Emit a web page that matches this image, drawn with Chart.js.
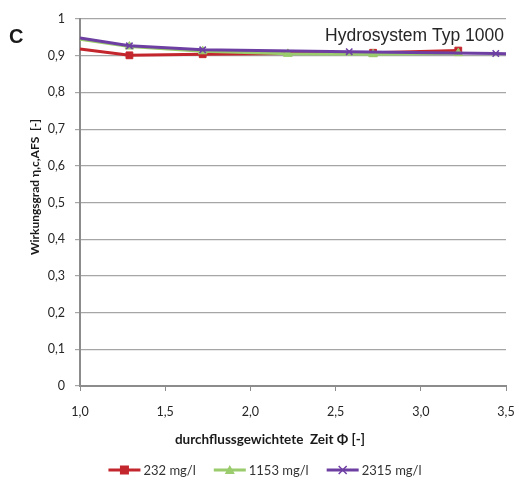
<!DOCTYPE html>
<html>
<head>
<meta charset="utf-8">
<script src="https://cdn.jsdelivr.net/npm/chart.js@4.4.1/dist/chart.umd.min.js"></script>
<style>
  html, body { margin: 0; padding: 0; background: #fff; }
  #wrap { width: 519px; height: 485px; position: relative; }
</style>
</head>
<body>
<div id="wrap"><canvas id="c" width="519" height="485"></canvas></div>
<script>
// Efficiency over flow-weighted time for three inflow concentrations
const seriesNames = ['232 mg/l', '1153 mg/l', '2315 mg/l'];

const redX = [1.0, 1.29, 1.72, 2.72, 3.22];
const redY = [0.918, 0.901, 0.904, 0.908, 0.914];

const greenX = [1.0, 1.29, 1.72, 2.22, 2.72, 3.22];
const greenY = [0.945, 0.925, 0.912, 0.905, 0.904, 0.907];

const purpleX = [1.0, 1.29, 1.72, 2.58, 3.44, 3.5];
const purpleY = [0.948, 0.927, 0.916, 0.911, 0.906, 0.905];

const xTicks = [1.0, 1.5, 2.0, 2.5, 3.0, 3.5];
const yTicks = [0, 0.1, 0.2, 0.3, 0.4, 0.5, 0.6, 0.7, 0.8, 0.9, 1];

const xTitle = 'durchflussgewichtete  Zeit Φ [-]';
const yTitle = 'Wirkungsgrad η,c,AFS  [-]';
const panelLetter = 'C';
const panelTitle = 'Hydrosystem Typ 1000';

const X_MIN = 1.0, X_MAX = 3.5;
const RED = '#c4262e', GREEN = '#9acb6c', PURPLE = '#6e3fa3';
const TICK_FONT = 'Lato, "Open Sans", sans-serif';

function pts(xs, ys) { return xs.map((x, i) => ({ x: x, y: ys[i] })); }
function comma(v, d) { return v.toFixed(d).replace('.', ','); }

// markers sit on measured points only, not where the line meets the frame
function edgeless(r) {
  return ctx => {
    const x = ctx.raw && ctx.raw.x;
    return (x <= X_MIN || x >= X_MAX) ? 0 : r;
  };
}

function drawMarker(g, style, cx, cy, color) {
  g.fillStyle = color; g.strokeStyle = color;
  if (style === 'rect') {
    g.fillRect(cx - 4.5, cy - 4.5, 9, 9);
  } else if (style === 'triangle') {
    g.beginPath(); g.moveTo(cx, cy - 5); g.lineTo(cx + 5, cy + 4); g.lineTo(cx - 5, cy + 4); g.closePath(); g.fill();
  } else {
    g.lineWidth = 1.5;
    g.beginPath(); g.moveTo(cx - 4, cy - 4); g.lineTo(cx + 4, cy + 4);
    g.moveTo(cx + 4, cy - 4); g.lineTo(cx - 4, cy + 4); g.stroke();
  }
}

const styles = ['rect', 'triangle', 'crossRot'];

// titles, panel label and legend
const decor = {
  id: 'decor',
  afterDraw(chart) {
    const g = chart.ctx;
    g.save();
    g.textBaseline = 'alphabetic';
    g.fillStyle = '#1a1a1a';
    g.font = 'bold 20px "Liberation Sans", Arial, sans-serif';
    g.textAlign = 'left';
    g.fillText(panelLetter, 9, 43);

    g.fillStyle = '#262626';
    g.font = '17.5px "Liberation Sans", Arial, sans-serif';
    g.textAlign = 'right';
    g.fillText(panelTitle, 504, 41);

    // axis titles
    g.fillStyle = '#1a1a1a';
    g.textAlign = 'center';
    g.textBaseline = 'middle';
    g.font = 'bold 13.5px ' + TICK_FONT;
    g.fillText(xTitle, 270, 440);
    g.save();
    g.translate(35, 187);
    g.rotate(-Math.PI / 2);
    g.font = 'bold 12px ' + TICK_FONT;
    g.fillText(yTitle, 0, 0);
    g.restore();

    // legend: line with marker, then label
    g.font = '13px ' + TICK_FONT;
    g.textAlign = 'left';
    const lineW = 32, gapTxt = 3, gapItem = 18;
    const widths = seriesNames.map(n => lineW + gapTxt + g.measureText(n).width);
    const total = widths.reduce((a, b) => a + b, 0) + gapItem * (seriesNames.length - 1);
    let x = 265 - total / 2;
    const y = 470;
    chart.data.datasets.forEach((d, i) => {
      g.strokeStyle = d.borderColor; g.lineWidth = 3;
      g.beginPath(); g.moveTo(x, y); g.lineTo(x + lineW, y); g.stroke();
      drawMarker(g, styles[i], x + lineW / 2, y, d.borderColor);
      g.fillStyle = '#333';
      g.fillText(d.label, x + lineW + gapTxt, y + 1);
      x += widths[i] + gapItem;
    });
    g.restore();
  }
};

new Chart(document.getElementById('c'), {
  type: 'line',
  data: {
    datasets: [
      { label: seriesNames[0], data: pts(redX, redY), borderColor: RED, backgroundColor: RED,
        borderWidth: 3, pointStyle: 'rect', pointRadius: edgeless(4.8), pointBorderWidth: 1,
        order: 3, clip: false },
      { label: seriesNames[1], data: pts(greenX, greenY), borderColor: GREEN, backgroundColor: GREEN,
        borderWidth: 3, pointStyle: 'triangle', pointRadius: edgeless(5), pointBorderWidth: 1,
        order: 2, clip: false },
      { label: seriesNames[2], data: pts(purpleX, purpleY), borderColor: PURPLE, backgroundColor: PURPLE,
        borderWidth: 3, pointStyle: 'crossRot', pointRadius: edgeless(4.5), pointBorderWidth: 1.5,
        order: 1, clip: false }
    ]
  },
  options: {
    responsive: false,
    animation: false,
    events: [],
    layout: { padding: { top: 19, right: 13, bottom: 33, left: 0 } },
    plugins: {
      tooltip: { enabled: false },
      legend: { display: false }
    },
    scales: {
      x: {
        type: 'linear', min: X_MIN, max: X_MAX,
        afterBuildTicks: s => { s.ticks = xTicks.map(v => ({ value: v })); },
        afterFit: s => { s.height = 66; s.paddingLeft = 0; s.paddingRight = 0; },
        grid: { display: true, drawOnChartArea: false, drawTicks: true, tickLength: 5, color: '#8c8c8c' },
        border: { display: true, color: '#8c8c8c', width: 2 },
        ticks: { color: '#262626', font: { family: TICK_FONT, size: 12.5 }, padding: 13,
                 maxRotation: 0, callback: v => comma(v, 1) },
        title: { display: false }
      },
      y: {
        type: 'linear', min: 0, max: 1,
        afterBuildTicks: s => { s.ticks = yTicks.map(v => ({ value: v })); },
        afterFit: s => { s.width = 80; s.paddingTop = 0; s.paddingBottom = 0; },
        grid: { color: '#a6a6a6', lineWidth: 1.2, drawTicks: true, tickLength: 5 },
        border: { display: true, color: '#8c8c8c', width: 2 },
        ticks: { color: '#262626', font: { family: TICK_FONT, size: 12.5 }, padding: 10,
                 callback: v => (v === 0 || v === 1) ? String(v) : comma(v, 1) },
        title: { display: false }
      }
    }
  },
  plugins: [decor]
});
</script>
</body>
</html>
